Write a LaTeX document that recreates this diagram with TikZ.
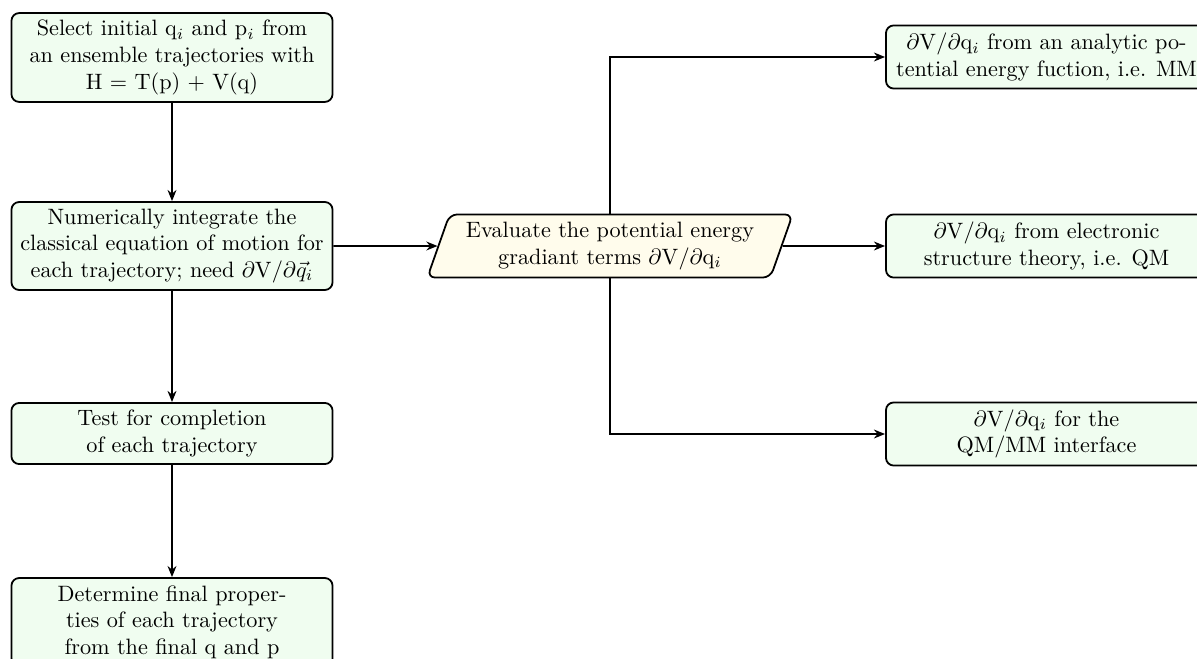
\documentclass[tikz,border=0pt]{standalone}
\usetikzlibrary{shapes.geometric,arrows.meta}
\definecolor{boxgreen}{HTML}{F0FDF0}
\definecolor{boxcream}{HTML}{FFFCEC}
\begin{document}
\begin{tikzpicture}[x=0.45pt,y=-0.45pt,
  flowbox/.style={draw, thick, rounded corners=3.5pt, fill=boxgreen, align=center,
    minimum width=144.5pt, inner sep=2pt, font=\normalsize},
  evalbox/.style={draw, thick, rounded corners=3.5pt, fill=boxcream, align=center,
    trapezium, trapezium left angle=70, trapezium right angle=110, trapezium stretches=true,
    minimum width=164.7pt, minimum height=28.4pt, inner sep=2pt},
  conn/.style={thick, -{Stealth[length=5pt,width=4pt]}}]
\useasboundingbox (0,0) rectangle (1197,658);
\node[flowbox, minimum height=40pt] (b1) at (172,57.5)
  {Select initial q$_i$ and p$_i$ from\\an ensemble trajectories with\\H = T(p) + V(q)};
\node[flowbox, minimum height=39.6pt] (b2) at (172,246)
  {Numerically integrate the\\classical equation of motion for\\each trajectory; need $\partial\mathrm{V}/\partial\vec{q}_i$};
\node[flowbox, minimum height=27.5pt] (b3) at (172,433.5)
  {Test for completion\\of each trajectory};
\node[flowbox, minimum height=39.6pt] (b4) at (172,622)
  {Determine final proper-\\ties of each trajectory\\from the final q and p};
\node[evalbox] (ev) at (610,246)
  {Evaluate the potential energy\\gradiant terms $\partial\mathrm{V}/\partial\mathrm{q}_i$};
\node[flowbox, minimum height=28.4pt] (r1) at (1046.5,57)
  {$\partial\mathrm{V}/\partial\mathrm{q}_i$ from an analytic po-\\tential energy fuction, i.e. MM};
\node[flowbox, minimum height=28.4pt] (r2) at (1046.5,246)
  {$\partial\mathrm{V}/\partial\mathrm{q}_i$ from electronic\\structure theory, i.e. QM};
\node[flowbox, minimum height=28.4pt] (r3) at (1046.5,434)
  {$\partial\mathrm{V}/\partial\mathrm{q}_i$ for the\\QM/MM interface};
\draw[conn] (b1) -- (b2);
\draw[conn] (b2) -- (b3);
\draw[conn] (b3) -- (b4);
\draw[conn] (b2.east) -- (ev.west);
\draw[conn] (ev.east) -- (r2.west);
\draw[conn] (ev.north) |- (r1.west);
\draw[conn] (ev.south) |- (r3.west);
\end{tikzpicture}
\end{document}
